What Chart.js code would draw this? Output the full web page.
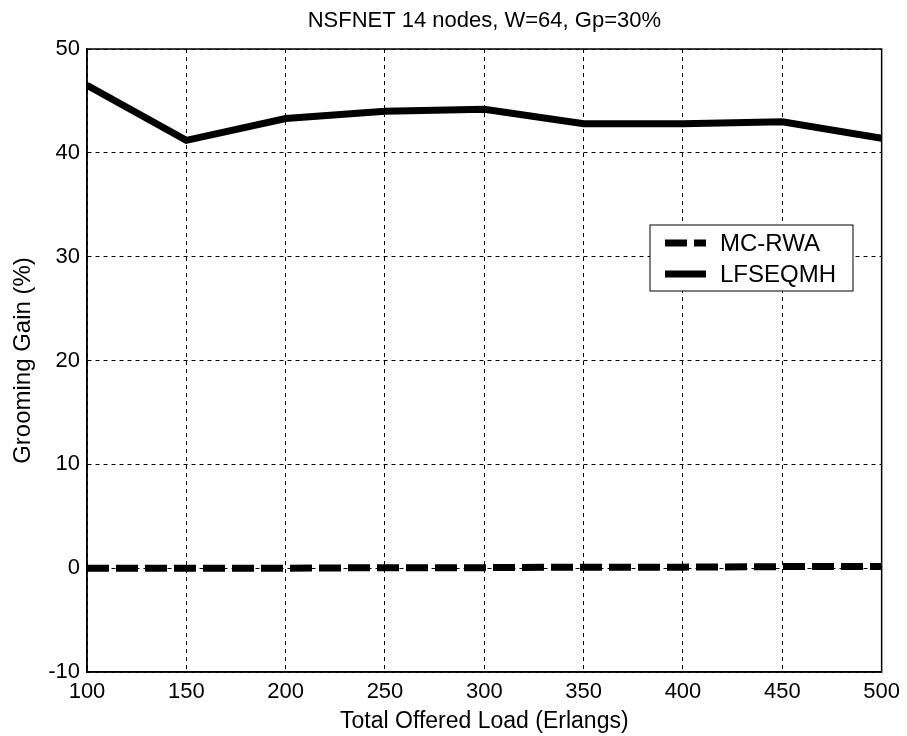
<!DOCTYPE html>
<html>
<head>
<meta charset="utf-8">
<script src="https://cdn.jsdelivr.net/npm/chart.js@4/dist/chart.umd.min.js"></script>
<style>
	html, body { margin: 0; padding: 0; background: #fff; }
	#wrap { width: 907px; height: 736px; }
</style>
</head>
<body>
<div id="wrap"><canvas id="gain"></canvas></div>
<script>
const loads = [100, 150, 200, 250, 300, 350, 400, 450, 500];
const mcRwa = [0, 0, 0, 0.05, 0.05, 0.1, 0.1, 0.15, 0.15];
const lfseqmh = [46.5, 41.2, 43.3, 44.0, 44.2, 42.8, 42.8, 43.0, 41.4];
const seriesNames = ["MC-RWA", "LFSEQMH"];
const chartTitle = "NSFNET 14 nodes, W=64, Gp=30%";
const xTitle = "Total Offered Load (Erlangs)";
const yTitle = "Grooming Gain (%)";

const fontFamily = "'Liberation Sans', Arial, sans-serif";

function toPoints(values) {
	return loads.map((x, i) => ({ x: x, y: values[i] }));
}

// box round the plot, the title on top and the legend inside
const framePlugin = {
	id: "frame",
	afterDraw(chart) {
		const ctx = chart.ctx;
		const a = chart.chartArea;
		ctx.save();
		ctx.strokeStyle = "#000";
		ctx.lineWidth = 1.5;
		ctx.setLineDash([]);
		ctx.strokeRect(a.left, a.top, a.right - a.left, a.bottom - a.top);

		ctx.fillStyle = "#000";
		ctx.font = "22px " + fontFamily;
		ctx.textAlign = "center";
		ctx.textBaseline = "middle";
		ctx.fillText(chartTitle, (a.left + a.right) / 2, 21);

		// legend box
		const bx = 650, by = 225, bw = 203, bh = 66;
		ctx.fillStyle = "#fff";
		ctx.fillRect(bx, by, bw, bh);
		ctx.lineWidth = 1;
		ctx.strokeRect(bx, by, bw, bh);
		ctx.font = "24px " + fontFamily;
		ctx.textAlign = "left";
		chart.data.datasets.forEach((ds, i) => {
			const yy = by + 18 + i * 31;
			ctx.strokeStyle = "#000";
			ctx.lineWidth = ds.borderWidth;
			ctx.lineCap = "butt";
			ctx.setLineDash(ds.borderDash || []);
			ctx.beginPath();
			ctx.moveTo(bx + 15, yy);
			ctx.lineTo(bx + 56, yy);
			ctx.stroke();
			ctx.setLineDash([]);
			ctx.fillStyle = "#000";
			ctx.fillText(ds.label, bx + 70, yy + 1);
		});
		ctx.restore();
	},
};

const config = {
	type: "line",
	data: {
		datasets: [
			{
				label: seriesNames[0],
				data: toPoints(mcRwa),
				borderColor: "#000",
				borderWidth: 7,
				borderDash: [22, 7],
				pointRadius: 0,
				tension: 0,
			},
			{
				label: seriesNames[1],
				data: toPoints(lfseqmh),
				borderColor: "#000",
				borderWidth: 7,
				pointRadius: 0,
				tension: 0,
			},
		],
	},
	options: {
		responsive: true,
		maintainAspectRatio: false,
		animation: false,
		layout: { padding: { top: 49, right: 23, bottom: 0, left: 0 } },
		plugins: {
			legend: { display: false },
			title: { display: false },
			tooltip: { enabled: false },
		},
		scales: {
			x: {
				type: "linear",
				min: 100,
				max: 500,
				afterFit: (scale) => { scale.height = 64; },
				afterBuildTicks: (scale) => { scale.ticks = loads.map((v) => ({ value: v })); },
				ticks: { color: "#000", font: { family: fontFamily, size: 22 }, padding: 7, maxRotation: 0 },
				grid: { color: "#000", lineWidth: 1, drawTicks: false },
				border: { color: "#000", width: 1.5, dash: [4, 4] },
				title: { display: true, text: xTitle, color: "#000", font: { family: fontFamily, size: 23 }, padding: { top: 0, bottom: 1 } },
			},
			y: {
				min: -10,
				max: 50,
				afterFit: (scale) => { scale.width = 87; },
				ticks: { stepSize: 10, color: "#000", font: { family: fontFamily, size: 22 }, padding: 7 },
				grid: { color: "#000", lineWidth: 1, drawTicks: false },
				border: { color: "#000", width: 1.5, dash: [4, 4] },
				title: { display: true, text: yTitle, color: "#000", font: { family: fontFamily, size: 24 }, padding: { top: 9, bottom: 0 } },
			},
		},
	},
	plugins: [framePlugin],
};

new Chart(document.getElementById("gain"), config);
</script>
</body>
</html>
